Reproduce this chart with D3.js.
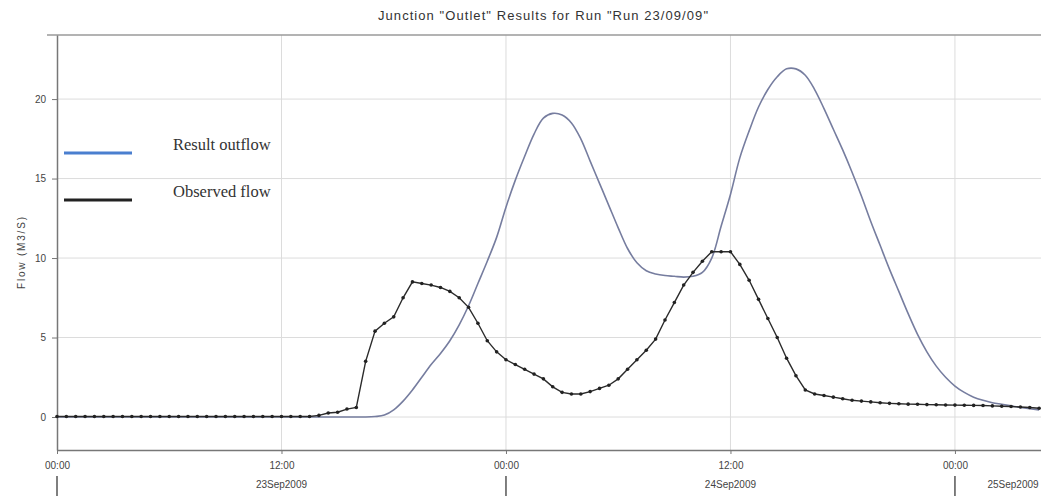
<!DOCTYPE html>
<html>
<head>
<meta charset="utf-8">
<script src="https://cdn.jsdelivr.net/npm/d3@7"></script>
<style>
  body { margin: 0; background: #fff; }
  svg { display: block; font-family: "Liberation Sans", Arial, sans-serif; }
  .grid line { stroke: #dcdcdc; stroke-width: 1; }
  .axis path, .axis line { stroke: #777; }
  .axis text { fill: #444; font-size: 10px; }
</style>
</head>
<body>
<div id="chart"></div>
<script>
// 0. data, half-hourly from 23Sep2009 00:00
var startTime = new Date(2009, 8, 23, 0, 0);
var hours = d3.range(0, 53, 0.5);

var observedFlow = [
  0.03, 0.03, 0.03, 0.03, 0.03, 0.03, 0.03, 0.03, 0.03, 0.03,
  0.03, 0.03, 0.03, 0.03, 0.03, 0.03, 0.03, 0.03, 0.03, 0.03,
  0.03, 0.03, 0.03, 0.03, 0.03, 0.03, 0.03, 0.03,
  0.1, 0.25, 0.3, 0.5, 0.6, 3.5, 5.4, 5.9, 6.3, 7.5,
  8.5, 8.4, 8.3, 8.15, 7.9, 7.5, 6.9, 5.9, 4.8, 4.1,
  3.6, 3.3, 3.0, 2.7, 2.4, 1.9, 1.55, 1.45, 1.45, 1.6,
  1.8, 2.0, 2.4, 3.0, 3.6, 4.2, 4.9, 6.1, 7.2, 8.3,
  9.1, 9.8, 10.4, 10.4, 10.4, 9.6, 8.6, 7.4, 6.2, 5.0,
  3.7, 2.6, 1.7, 1.45, 1.35, 1.25, 1.15, 1.05, 1.0, 0.95,
  0.9, 0.86, 0.83, 0.81, 0.8, 0.78, 0.77, 0.76, 0.75, 0.74,
  0.73, 0.72, 0.7, 0.68, 0.66, 0.63, 0.6, 0.55
];

var resultOutflow = [
  0, 0, 0, 0, 0, 0, 0, 0, 0, 0,
  0, 0, 0, 0, 0, 0, 0, 0, 0, 0,
  0, 0, 0, 0, 0, 0, 0, 0, 0, 0,
  0, 0, 0, 0,
  0.03, 0.12, 0.45, 1.0, 1.7, 2.5, 3.3, 4.0, 4.8, 5.8,
  7.0, 8.4, 9.8, 11.3, 13.2, 14.9, 16.4, 17.8, 18.8, 19.1,
  19.0, 18.5, 17.5, 16.1, 14.7, 13.3, 11.9, 10.6, 9.7, 9.2,
  9.0, 8.9, 8.85, 8.8, 8.85, 9.1, 10.0, 12.0, 14.0, 16.3,
  18.0, 19.5, 20.6, 21.4, 21.9, 21.9, 21.5, 20.6, 19.4, 18.1,
  16.8, 15.4, 13.9, 12.3, 10.8, 9.3, 7.9, 6.5, 5.2, 4.1,
  3.2, 2.5, 1.95, 1.55, 1.25, 1.05, 0.9, 0.8, 0.7, 0.6,
  0.52, 0.45
];

var yTicks = [0, 5, 10, 15, 20];
var dayLabels = ["23Sep2009", "24Sep2009", "25Sep2009"];
var legendNames = ["Result outflow", "Observed flow"];
var title = 'Junction "Outlet" Results for Run "Run 23/09/09"';

function hourToDate(h) { return new Date(startTime.getTime() + h * 3600000); }

var observed = hours.map(function(h, i) { return { date: hourToDate(h), value: observedFlow[i] }; });
var result = hours.map(function(h, i) { return { date: hourToDate(h), value: resultOutflow[i] }; });

// 1. layout
var W = 1041, H = 496;
var margin = { top: 35, right: 0, bottom: 46, left: 57 };

var svg = d3.select("#chart").append("svg")
    .attr("width", W)
    .attr("height", H);

var xScale = d3.scaleTime()
    .domain([startTime, hourToDate(52.6)])
    .range([margin.left, W - margin.right]);

var yScale = d3.scaleLinear()
    .domain([-2.075, 24.03])
    .range([H - margin.bottom, margin.top]);

var twelveHours = d3.timeHour.every(12).range(startTime, hourToDate(52.6));

// 2. grid
svg.append("g").attr("class", "grid")
  .selectAll("line.h").data(yTicks).enter().append("line")
    .attr("x1", margin.left).attr("x2", W)
    .attr("y1", function(d) { return yScale(d); })
    .attr("y2", function(d) { return yScale(d); });

svg.append("g").attr("class", "grid")
  .selectAll("line.v").data(twelveHours.slice(1)).enter().append("line")
    .attr("x1", function(d) { return xScale(d); })
    .attr("x2", function(d) { return xScale(d); })
    .attr("y1", margin.top).attr("y2", H - margin.bottom);

// top frame line
svg.append("line")
    .attr("x1", 47).attr("x2", W)
    .attr("y1", margin.top).attr("y2", margin.top)
    .attr("stroke", "#9a9a9a").attr("stroke-width", 1.5);

// 3. axes
svg.append("g")
    .attr("class", "y axis")
    .attr("transform", "translate(" + margin.left + ",0)")
    .call(d3.axisLeft(yScale).tickValues(yTicks).tickSize(5).tickPadding(6).tickSizeOuter(0))
    .call(function(g) { g.select(".domain").attr("stroke", "#666").attr("stroke-width", 1.5); });

svg.append("g")
    .attr("class", "x axis")
    .attr("transform", "translate(0," + (H - margin.bottom) + ")")
    .call(d3.axisBottom(xScale).tickValues(twelveHours).tickSize(4).tickPadding(8)
      .tickSizeOuter(0).tickFormat(d3.timeFormat("%H:%M")))
    .call(function(g) { g.select(".domain").attr("stroke", "#777").attr("stroke-width", 1.5); });

// day separators and day labels
var days = d3.timeDay.range(startTime, hourToDate(52.6));
svg.append("g").selectAll("line").data(days).enter().append("line")
    .attr("x1", function(d) { return xScale(d); })
    .attr("x2", function(d) { return xScale(d); })
    .attr("y1", 476).attr("y2", H)
    .attr("stroke", "#555").attr("stroke-width", 1.5);

svg.append("g").selectAll("text").data(days).enter().append("text")
    .attr("x", function(d) { return Math.min(xScale(d3.timeHour.offset(d, 12)), W - 28); })
    .attr("y", 488)
    .attr("text-anchor", "middle")
    .attr("font-size", "10px")
    .attr("fill", "#444")
    .text(function(d, i) { return dayLabels[i]; });

// 4. titles
svg.append("text")
    .attr("x", 543).attr("y", 20)
    .attr("text-anchor", "middle")
    .attr("font-size", "13px")
    .attr("textLength", 330)
    .attr("lengthAdjust", "spacing")
    .attr("fill", "#333")
    .text(title);

svg.append("text")
    .attr("transform", "translate(25," + 253 + ") rotate(-90)")
    .attr("text-anchor", "middle")
    .attr("font-size", "10px")
    .attr("textLength", 72)
    .attr("lengthAdjust", "spacing")
    .attr("fill", "#444")
    .text("Flow (M3/S)");

// 5. lines
var line = d3.line()
    .x(function(d) { return xScale(d.date); })
    .y(function(d) { return yScale(d.value); });

svg.append("path")
    .datum(result)
    .attr("fill", "none")
    .attr("stroke", "#767d9f")
    .attr("stroke-width", 1.6)
    .attr("d", line.curve(d3.curveCatmullRom.alpha(0.5)));

svg.append("path")
    .datum(observed)
    .attr("fill", "none")
    .attr("stroke", "#2b2b2b")
    .attr("stroke-width", 1.4)
    .attr("d", line.curve(d3.curveLinear));

svg.selectAll(".dot")
    .data(observed)
    .enter().append("circle")
    .attr("class", "dot")
    .attr("cx", function(d) { return xScale(d.date); })
    .attr("cy", function(d) { return yScale(d.value); })
    .attr("r", 1.8)
    .attr("fill", "#222");

// 6. legend
var legendColors = ["#4a7fcf", "#222"];
var legendY = [153, 200];
var legend = svg.append("g").selectAll("g").data(legendNames).enter().append("g");
legend.append("line")
    .attr("x1", 64).attr("x2", 132)
    .attr("y1", function(d, i) { return legendY[i]; })
    .attr("y2", function(d, i) { return legendY[i]; })
    .attr("stroke", function(d, i) { return legendColors[i]; })
    .attr("stroke-width", 3);
legend.append("text")
    .attr("x", 173)
    .attr("y", function(d, i) { return legendY[i] - 3; })
    .attr("font-family", "'Liberation Serif', 'Times New Roman', serif")
    .attr("font-size", "16.5px")
    .attr("fill", "#333")
    .text(function(d) { return d; });
</script>
</body>
</html>
